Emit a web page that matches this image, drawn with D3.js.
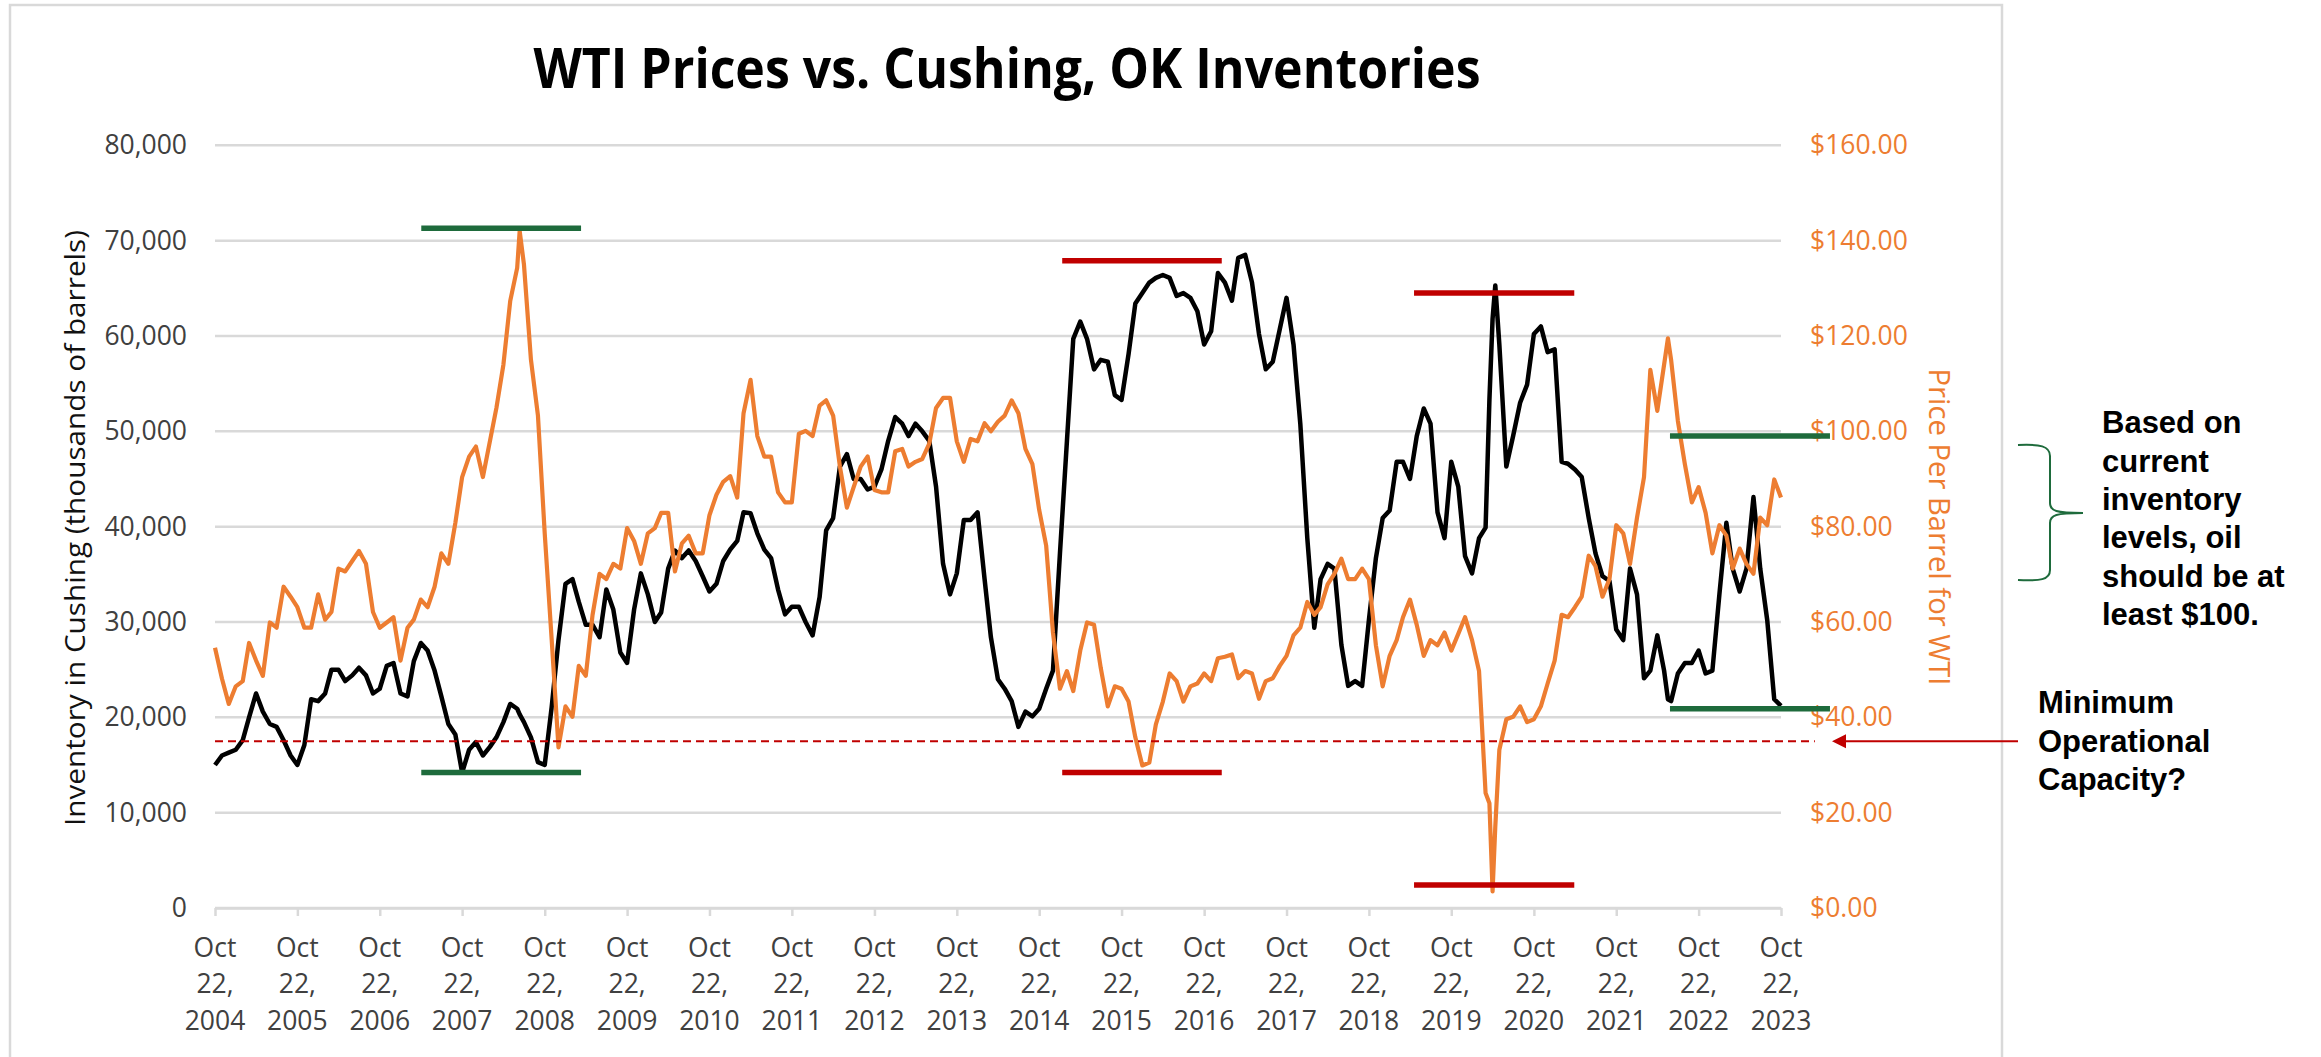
<!DOCTYPE html>
<html>
<head>
<meta charset="utf-8">
<script src="https://cdn.jsdelivr.net/npm/d3@7"></script>
<style>
  body { margin: 0; background: #ffffff; }
  #my_dataviz { width: 2321px; height: 1057px; }
</style>
</head>
<body>
<div id="my_dataviz"></div>
<script>
// monthly readings taken on the 22nd of each month, Oct 2004 .. Oct 2023
const firstMonth = "2004-10-22";

// Cushing, OK crude inventory (thousands of barrels), one row per Oct..Sep year
const inventory = [
  15000, 16000, 16300, 16600, 17600, 20000, 22500, 20600, 19300, 19000, 17600, 16000,
  15000, 17100, 21900, 21700, 22500, 25000, 25000, 23800, 24400, 25200, 24400, 22500,
  23000, 25400, 25700, 22500, 22200, 25900, 27800, 27000, 24900, 22200, 19300, 18200,
  14200, 16600, 17400, 16000, 16900, 17900, 19500, 21400, 20900, 19500, 17900, 15300,
  15000, 21100, 28100, 34000, 34500, 32100, 29700, 29700, 28400, 33400, 31300, 26800,
  25700, 31300, 35100, 32900, 30000, 31000, 35600, 37500, 36700, 37500, 36400, 34800,
  33200, 34000, 36400, 37600, 38500, 41500, 41400, 39300, 37600, 36700, 33400, 30800,
  31600, 31600, 30000, 28600, 32600, 39600, 40900, 46300, 47600, 45000, 45000, 43900,
  44200, 46000, 49000, 51500, 50800, 49500, 50800, 50000, 49000, 44200, 36100, 32900,
  35100, 40700, 40700, 41500, 34500, 28400, 24000, 23000, 21700, 19000, 20600, 20100,
  20900, 23000, 24900, 37200, 49000, 59700, 61500, 59700, 56500, 57500, 57300, 53800,
  53300, 58100, 63400, 64500, 65600, 66100, 66400, 66100, 64200, 64500, 64000, 62600,
  59100, 60500, 66600, 65600, 63700, 68200, 68500, 65600, 60200, 56500, 57300, 60700,
  64000, 59100, 50800, 38800, 29400, 34500, 36100, 35600, 27600, 23300, 23800, 23300,
  30200, 36700, 40900, 41700, 46800, 46800, 45000, 49500, 52400, 50800, 41500, 38800,
  46800, 44200, 36900, 35100, 38800, 39900, 61800, 59100, 46300, 49500, 53000, 54900,
  60200, 61000, 58300, 58600, 46800, 46600, 46000, 45200, 40900, 37200, 34800, 34300,
  29200, 28100, 35600, 32900, 24100, 24900, 28600, 24900, 21700, 24600, 25700, 25700,
  27000, 24600, 24900, 32900, 40400, 35600, 33200, 35600, 43100, 35600, 30200, 21900,
  21200
];

// WTI spot price ($ per barrel), same months
const wtiPrice = [
  54.6, 48.1, 42.8, 46.5, 47.6, 55.6, 51.9, 48.7, 59.9, 58.8, 67.4, 65.3,
  63.1, 58.8, 58.8, 65.8, 60.5, 62.1, 71.2, 70.6, 72.8, 74.9, 72.2, 62.1,
  58.8, 59.9, 61.0, 51.9, 58.8, 60.5, 64.7, 63.1, 67.4, 74.4, 72.2, 80.8,
  90.4, 94.7, 96.8, 90.4, 97.9, 104.9, 114.0, 127.3, 134.3, 135.0, 115.0, 103.3,
  78.6, 56.2, 33.7, 42.3, 40.1, 50.8, 48.7, 61.5, 70.1, 69.0, 72.2, 71.2,
  79.7, 77.0, 72.2, 78.6, 79.7, 82.9, 82.9, 70.6, 76.5, 78.1, 74.4, 74.4,
  82.4, 86.7, 89.4, 90.6, 86.1, 103.8, 110.8, 99.0, 94.7, 94.7, 87.2, 85.1,
  85.1, 99.5, 100.1, 99.0, 105.4, 106.5, 103.3, 92.6, 84.0, 88.3, 92.6, 94.7,
  87.7, 87.2, 87.2, 95.8, 96.3, 92.6, 93.6, 94.2, 97.4, 104.9, 107.0, 107.0,
  97.9, 93.6, 98.4, 97.9, 101.7, 100.0, 102.0, 103.3, 106.5, 103.8, 96.3, 93.1,
  83.5, 76.0, 57.8, 46.0, 49.7, 45.5, 54.0, 59.9, 59.4, 50.3, 42.3, 46.5,
  46.0, 43.3, 35.8, 29.9, 30.5, 38.5, 43.3, 49.2, 47.6, 43.3, 46.5, 47.1,
  49.2, 47.6, 52.4, 52.7, 53.2, 48.2, 49.7, 49.2, 43.9, 47.6, 48.2, 50.8,
  52.9, 57.2, 58.8, 64.2, 61.5, 63.1, 67.9, 70.1, 73.3, 69.0, 69.0, 71.2,
  69.0, 55.1, 46.5, 52.9, 56.2, 61.0, 64.7, 59.4, 52.9, 56.2, 55.1, 57.8,
  54.0, 57.5, 61.0, 56.2, 49.7, 24.1, 3.5, 33.2, 39.6, 40.1, 42.3, 39.0,
  39.6, 42.3, 47.1, 51.9, 61.5, 61.0, 63.1, 65.3, 73.9, 71.7, 65.3, 69.0,
  80.3, 78.6, 72.2, 81.9, 90.4, 112.9, 104.3, 114.0, 115.0, 102.2, 93.1, 85.1,
  88.3, 82.9, 74.4, 80.3, 78.1, 71.2, 75.4, 72.2, 70.1, 81.9, 80.3, 89.9,
  86.1
];

// weekly extremes the monthly readings miss: [date, inventory, price]
const weeklyExtremes = [
  ["2008-07-03", 20300, 142.0],
  ["2020-04-08", 53300, 22.0],
  ["2020-05-04", 65300, 17.0],
  ["2022-06-08", 21900, 119.5]
];

const inventoryTicks = [0, 10000, 20000, 30000, 40000, 50000, 60000, 70000, 80000];
const priceTicks = [0, 20, 40, 60, 80, 100, 120, 140, 160];
const tickYears = ["2004", "2005", "2006", "2007", "2008", "2009", "2010", "2011", "2012", "2013",
  "2014", "2015", "2016", "2017", "2018", "2019", "2020", "2021", "2022", "2023"];

// hand drawn range markers: [from, to, level in thousands of barrels]
const greenBars = [
  ["2007-04-24", "2009-04-01", 71300],
  ["2007-04-24", "2009-04-01", 14200],
  ["2022-06-17", "2024-05-26", 49500],
  ["2022-06-17", "2024-05-26", 20900]
];
const redBars = [
  ["2015-02-01", "2017-01-08", 67900],
  ["2015-02-01", "2017-01-08", 14200],
  ["2019-05-10", "2021-04-19", 64500],
  ["2019-05-10", "2021-04-19", 2400]
];
const minOperational = 17500;
const minOperationalEnd = "2024-03-20";

const chartTitle = "WTI Prices vs. Cushing, OK Inventories";
const leftTitle = "Inventory in Cushing (thousands of barrels)";
const rightTitle = "Price Per Barrel for WTI";
const noteLines = ["Based on", "current", "inventory", "levels, oil", "should be at", "least $100."];
const capacityLines = ["Minimum", "Operational", "Capacity?"];

// ---------------------------------------------------------------------------

let width = 2321;
let height = 1057;
let plot = { left: 215, right: 1781, top: 145.3, bottom: 908 };

const orange = "#ED7D31";
const green = "#1E6B3C";
const red = "#C00000";
const grid = "#D9D9D9";
const labelFont = "'Open Sans', sans-serif";

var svg = d3
  .select("#my_dataviz")
  .append("svg")
  .attr("width", width)
  .attr("height", height);

const parseDate = d3.timeParse("%Y-%m-%d");

// merge the monthly readings with the weekly extremes
const start = parseDate(firstMonth);
let rows = inventory.map(function(v, i) {
  return { date: d3.timeMonth.offset(start, i), inventory: v, price: wtiPrice[i] };
});
weeklyExtremes.forEach(function(p) {
  rows.push({ date: parseDate(p[0]), inventory: p[1], price: p[2] });
});
rows.sort(function(a, b) { return a.date - b.date; });

let x = d3
  .scaleTime()
  .domain([parseDate("2004-10-22"), parseDate("2023-10-22")])
  .range([plot.left, plot.right]);

let yInv = d3.scaleLinear().domain([0, 80000]).range([plot.bottom, plot.top]);
let yPrice = d3.scaleLinear().domain([0, 160]).range([plot.bottom, plot.top]);

// chart border
svg
  .append("rect")
  .attr("x", 10)
  .attr("y", 5)
  .attr("width", 1992)
  .attr("height", 1100)
  .attr("fill", "none")
  .attr("stroke", grid)
  .attr("stroke-width", 2.5);

// title
svg
  .append("text")
  .attr("x", 1007)
  .attr("y", 88)
  .attr("text-anchor", "middle")
  .attr("textLength", 947)
  .attr("lengthAdjust", "spacingAndGlyphs")
  .style("font-family", "'Liberation Sans Narrow', 'Open Sans', sans-serif")
  .style("font-weight", "bold")
  .style("font-size", "55px")
  .style("fill", "#000")
  .text(chartTitle);

// horizontal gridlines
svg
  .append("g")
  .selectAll("line")
  .data(inventoryTicks)
  .enter()
  .append("line")
  .attr("x1", plot.left)
  .attr("x2", plot.right)
  .attr("y1", d => yInv(d))
  .attr("y2", d => yInv(d))
  .attr("stroke", grid)
  .attr("stroke-width", 2.5);

// left axis labels
let leftAxis = svg
  .append("g")
  .attr("transform", "translate(" + plot.left + ",0)")
  .call(
    d3.axisLeft(yInv)
      .tickValues(inventoryTicks)
      .tickSize(0)
      .tickPadding(28)
      .tickFormat(d3.format(","))
  );
leftAxis.select(".domain").remove();
leftAxis
  .selectAll("text")
  .style("font-family", labelFont)
  .style("font-size", "26.5px")
  .style("fill", "#404040");

// right axis labels
let rightAxis = svg
  .append("g")
  .attr("transform", "translate(" + plot.right + ",0)")
  .call(
    d3.axisRight(yPrice)
      .tickValues(priceTicks)
      .tickSize(0)
      .tickPadding(29)
      .tickFormat(d => "$" + d3.format(".2f")(d))
  );
rightAxis.select(".domain").remove();
rightAxis
  .selectAll("text")
  .style("font-family", labelFont)
  .style("font-size", "26.5px")
  .style("fill", orange);

// bottom axis with yearly ticks
let tickDates = tickYears.map(y => parseDate(y + "-10-22"));
let bottomAxis = svg
  .append("g")
  .attr("transform", "translate(0," + plot.bottom + ")")
  .call(
    d3.axisBottom(x)
      .tickValues(tickDates)
      .tickSize(8)
      .tickSizeOuter(0)
      .tickFormat("")
  );
bottomAxis.select(".domain").attr("stroke", grid).attr("stroke-width", 2.5);
bottomAxis.selectAll(".tick line").attr("stroke", grid).attr("stroke-width", 2.5);

// three line date labels under each tick
let dateLabels = svg
  .append("g")
  .selectAll("text")
  .data(tickYears)
  .enter()
  .append("text")
  .attr("text-anchor", "middle")
  .style("font-family", labelFont)
  .style("font-size", "26.5px")
  .style("fill", "#404040");
dateLabels.each(function(d) {
  let cx = x(parseDate(d + "-10-22"));
  let t = d3.select(this);
  t.append("tspan").attr("x", cx).attr("y", 956.7).text("Oct");
  t.append("tspan").attr("x", cx).attr("y", 993.2).text("22,");
  t.append("tspan").attr("x", cx).attr("y", 1029.7).text(d);
});

// axis titles
svg
  .append("text")
  .attr("transform", "translate(85,528) rotate(-90)")
  .attr("text-anchor", "middle")
  .attr("textLength", 596)
  .attr("lengthAdjust", "spacingAndGlyphs")
  .style("font-family", labelFont)
  .style("font-size", "28px")
  .style("fill", "#111")
  .text(leftTitle);

svg
  .append("text")
  .attr("transform", "translate(1929,527) rotate(90)")
  .attr("text-anchor", "middle")
  .attr("textLength", 317)
  .attr("lengthAdjust", "spacingAndGlyphs")
  .style("font-family", labelFont)
  .style("font-size", "29px")
  .style("fill", orange)
  .text(rightTitle);

// series lines
let inventoryLine = d3.line().x(d => x(d.date)).y(d => yInv(d.inventory));
let priceLine = d3.line().x(d => x(d.date)).y(d => yPrice(d.price));

svg
  .append("path")
  .datum(rows)
  .attr("d", inventoryLine)
  .attr("fill", "none")
  .attr("stroke", "#000")
  .attr("stroke-width", 4.5)
  .attr("stroke-linejoin", "round");

svg
  .append("path")
  .datum(rows)
  .attr("d", priceLine)
  .attr("fill", "none")
  .attr("stroke", orange)
  .attr("stroke-width", 4.2)
  .attr("stroke-linejoin", "round");

// minimum operational capacity dashed line
svg
  .append("line")
  .attr("x1", plot.left)
  .attr("x2", x(parseDate(minOperationalEnd)))
  .attr("y1", yInv(minOperational))
  .attr("y2", yInv(minOperational))
  .attr("stroke", red)
  .attr("stroke-width", 2)
  .attr("stroke-dasharray", "8,5");

/**
 * @description Draw the hand placed range markers
 * @param bars An array of [from, to, level]
 * @param color stroke colour
 */
function drawBars(bars, color) {
  svg
    .append("g")
    .selectAll("line")
    .data(bars)
    .enter()
    .append("line")
    .attr("x1", d => x(parseDate(d[0])))
    .attr("x2", d => x(parseDate(d[1])))
    .attr("y1", d => yInv(d[2]))
    .attr("y2", d => yInv(d[2]))
    .attr("stroke", color)
    .attr("stroke-width", 5.5);
}
drawBars(greenBars, green);
drawBars(redBars, red);

// arrow pointing at the dashed line
let arrowY = yInv(minOperational);
svg
  .append("line")
  .attr("x1", 2018)
  .attr("x2", 1844)
  .attr("y1", arrowY)
  .attr("y2", arrowY)
  .attr("stroke", red)
  .attr("stroke-width", 2);
svg
  .append("path")
  .attr("d", "M1832," + arrowY + "L1846," + (arrowY - 7) + "L1846," + (arrowY + 7) + "Z")
  .attr("fill", red);

// curly brace next to the note
svg
  .append("path")
  .attr("d",
    "M2018,445 C2040,444 2050,446 2050,456 L2050,503 C2050,511 2056,513 2083,513" +
    " M2083,513 C2056,513 2050,515 2050,523 L2050,570 C2050,580 2040,581 2018,580")
  .attr("fill", "none")
  .attr("stroke", green)
  .attr("stroke-width", 2);

// side notes
svg
  .append("g")
  .selectAll("text")
  .data(noteLines)
  .enter()
  .append("text")
  .attr("x", 2102)
  .attr("y", (d, i) => 433.3 + i * 38.3)
  .style("font-family", "'Liberation Sans', Arial, sans-serif")
  .style("font-weight", "bold")
  .style("font-size", "31px")
  .style("fill", "#000")
  .text(d => d);

svg
  .append("g")
  .selectAll("text")
  .data(capacityLines)
  .enter()
  .append("text")
  .attr("x", 2038)
  .attr("y", (d, i) => 713.3 + i * 38.3)
  .style("font-family", "'Liberation Sans', Arial, sans-serif")
  .style("font-weight", "bold")
  .style("font-size", "31px")
  .style("fill", "#000")
  .text(d => d);
</script>
</body>
</html>
